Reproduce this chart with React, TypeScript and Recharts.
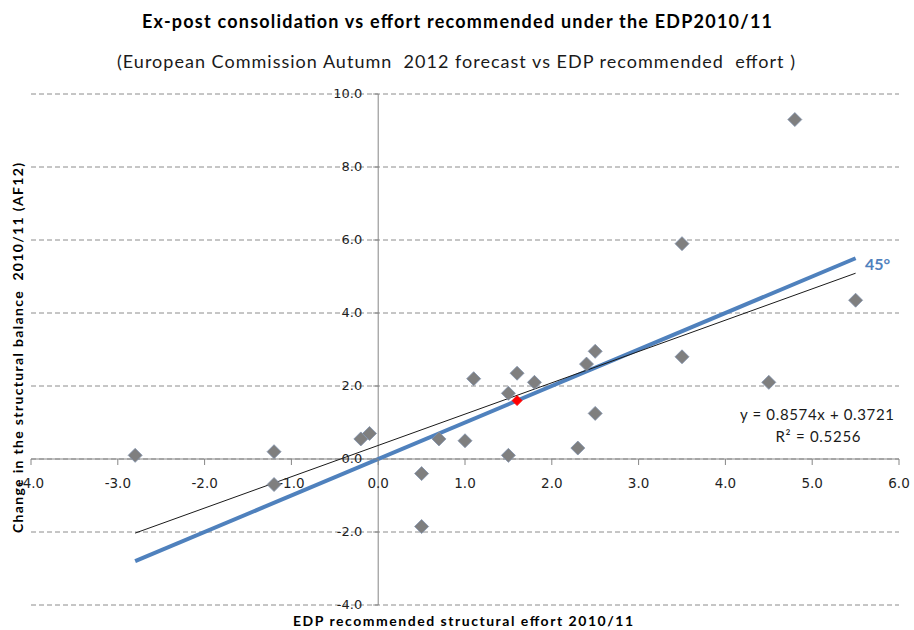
import React from "react";
import {
  ScatterChart,
  Scatter,
  XAxis,
  YAxis,
  CartesianGrid,
  ReferenceLine,
  ReferenceDot,
} from "recharts";

// ---- data ----
const effort = [-2.8, -1.2, -1.2, -0.2, -0.1, 0.5, 0.5, 0.7, 1.0, 1.1, 1.5, 1.5, 1.6, 1.8, 2.3, 2.4, 2.5, 2.5, 3.5, 3.5, 4.5, 4.8, 5.5];
const change = [0.1, 0.2, -0.7, 0.55, 0.7, -0.4, -1.85, 0.55, 0.5, 2.2, 1.8, 0.1, 2.35, 2.1, 0.3, 2.6, 2.95, 1.25, 2.8, 5.9, 2.1, 9.3, 4.35];
const averageX = [1.6];
const averageY = [1.6];

const line45X = [-2.8, 5.5];
const line45Y = [-2.8, 5.5];
const trendX = [-2.8, 5.5];
const trendY = [-2.03, 5.09];

const xTicks = [-4, -3, -2, -1, 0, 1, 2, 3, 4, 5, 6];
const yTicks = [-4, -2, 0, 2, 4, 6, 8, 10];

const title = "Ex-post consolidation vs effort recommended under the EDP2010/11";
const subtitle = "(European Commission Autumn  2012 forecast vs EDP recommended  effort )";
const xTitle = "EDP recommended structural effort 2010/11";
const yTitle = "Change in the structural balance  2010/11 (AF12)";
const equation = "y = 0.8574x + 0.3721";
const rSquared = "R\u00B2 = 0.5256";
const label45 = "45\u00B0";

const points = effort.map((x, i) => ({ x, y: change[i] }));
const avgPoints = averageX.map((x, i) => ({ x, y: averageY[i] }));

const TICK_FONT = "'DejaVu Sans', Verdana, sans-serif";
const TEXT_FONT = "Lato, 'Open Sans', sans-serif";

const Diamond = (r: number, fill: string, stroke: string) => (props: any) => {
  const { cx, cy } = props;
  if (cx == null || cy == null) return <g />;
  return (
    <polygon
      points={`${cx},${cy - r} ${cx + r},${cy} ${cx},${cy + r} ${cx - r},${cy}`}
      fill={fill}
      stroke={stroke}
      strokeWidth={0.8}
    />
  );
};

const fmt = (v: number) => v.toFixed(1);

export default function App() {
  return (
    <div
      style={{
        position: "absolute",
        left: 0,
        top: 0,
        width: 914,
        height: 630,
        background: "#ffffff",
      }}
    >
      <ScatterChart
        width={914}
        height={630}
        margin={{ top: 94, right: 15, bottom: 25, left: 31 }}
      >
        <XAxis type="number" dataKey="x" domain={[-4, 6]} ticks={xTicks} hide />
        <YAxis type="number" dataKey="y" domain={[-4, 10]} ticks={yTicks} hide />
        <CartesianGrid vertical={false} stroke="#8c8c8c" strokeDasharray="5 3" />
        <ReferenceLine y={0} stroke="#868686" strokeWidth={1} />
        <ReferenceLine x={0} stroke="#868686" strokeWidth={1} />
        {xTicks.map((t) => (
          <ReferenceDot
            key={"xt" + t}
            x={t}
            y={0}
            r={0}
            isFront={false}
            shape={(p: any) => (
              <g>
                <line x1={p.cx} y1={p.cy} x2={p.cx} y2={p.cy + 6} stroke="#868686" />
                <text
                  x={p.cx}
                  y={p.cy + 29}
                  textAnchor="middle"
                  fontFamily={TICK_FONT}
                  fontSize={13.5}
                  fill="#1f1f1f"
                >
                  {fmt(t)}
                </text>
              </g>
            )}
          />
        ))}
        {yTicks.map((t) => (
          <ReferenceDot
            key={"yt" + t}
            x={0}
            y={t}
            r={0}
            isFront={false}
            shape={(p: any) => (
              <g>
                <line x1={p.cx - 5} y1={p.cy} x2={p.cx} y2={p.cy} stroke="#868686" />
                <text
                  x={p.cx - 16}
                  y={p.cy + 4}
                  textAnchor="end"
                  fontFamily={TICK_FONT}
                  fontSize={13}
                  fill="#1f1f1f"
                >
                  {fmt(t)}
                </text>
              </g>
            )}
          />
        ))}
        <ReferenceLine
          segment={[
            { x: line45X[0], y: line45Y[0] },
            { x: line45X[1], y: line45Y[1] },
          ]}
          stroke="#4f81bd"
          strokeWidth={4}
        />
        <ReferenceLine
          segment={[
            { x: trendX[0], y: trendY[0] },
            { x: trendX[1], y: trendY[1] },
          ]}
          stroke="#1a1a1a"
          strokeWidth={1}
        />
        <Scatter
          data={points}
          isAnimationActive={false}
          shape={Diamond(7, "#7f7f7f", "#8092ad")}
        />
        <Scatter
          data={avgPoints}
          isAnimationActive={false}
          shape={Diamond(5, "#ff0000", "#ff0000")}
        />
      </ScatterChart>
      <svg
        width={914}
        height={630}
        style={{ position: "absolute", left: 0, top: 0, pointerEvents: "none" }}
      >
        <text
          x={457}
          y={28}
          textAnchor="middle"
          fontFamily={TEXT_FONT}
          fontWeight="bold"
          fontSize={18}
          textLength={630}
          fill="#000"
        >
          {title}
        </text>
        <text
          x={456}
          y={68}
          textAnchor="middle"
          fontFamily={TEXT_FONT}
          fontSize={18}
          textLength={678}
          fill="#1a1a1a"
          style={{ whiteSpace: "pre" }}
        >
          {subtitle}
        </text>
        <text
          x={463}
          y={626}
          textAnchor="middle"
          fontFamily={TEXT_FONT}
          fontWeight="bold"
          fontSize={14}
          textLength={340}
          fill="#000"
        >
          {xTitle}
        </text>
        <text
          x={23}
          y={348}
          transform="rotate(-90, 23, 348)"
          textAnchor="middle"
          fontFamily={TEXT_FONT}
          fontWeight="bold"
          fontSize={14}
          textLength={370}
          fill="#000"
          style={{ whiteSpace: "pre" }}
        >
          {yTitle}
        </text>
        <text
          x={865}
          y={270}
          fontFamily={TEXT_FONT}
          fontWeight="bold"
          fontSize={16}
          fill="#4f81bd"
        >
          {label45}
        </text>
        <text
          x={817}
          y={420}
          textAnchor="middle"
          fontFamily={TEXT_FONT}
          fontSize={15}
          textLength={154}
          fill="#1a1a1a"
        >
          {equation}
        </text>
        <text
          x={818}
          y={442}
          textAnchor="middle"
          fontFamily={TEXT_FONT}
          fontSize={15}
          textLength={85}
          fill="#1a1a1a"
        >
          {rSquared}
        </text>
      </svg>
    </div>
  );
}
